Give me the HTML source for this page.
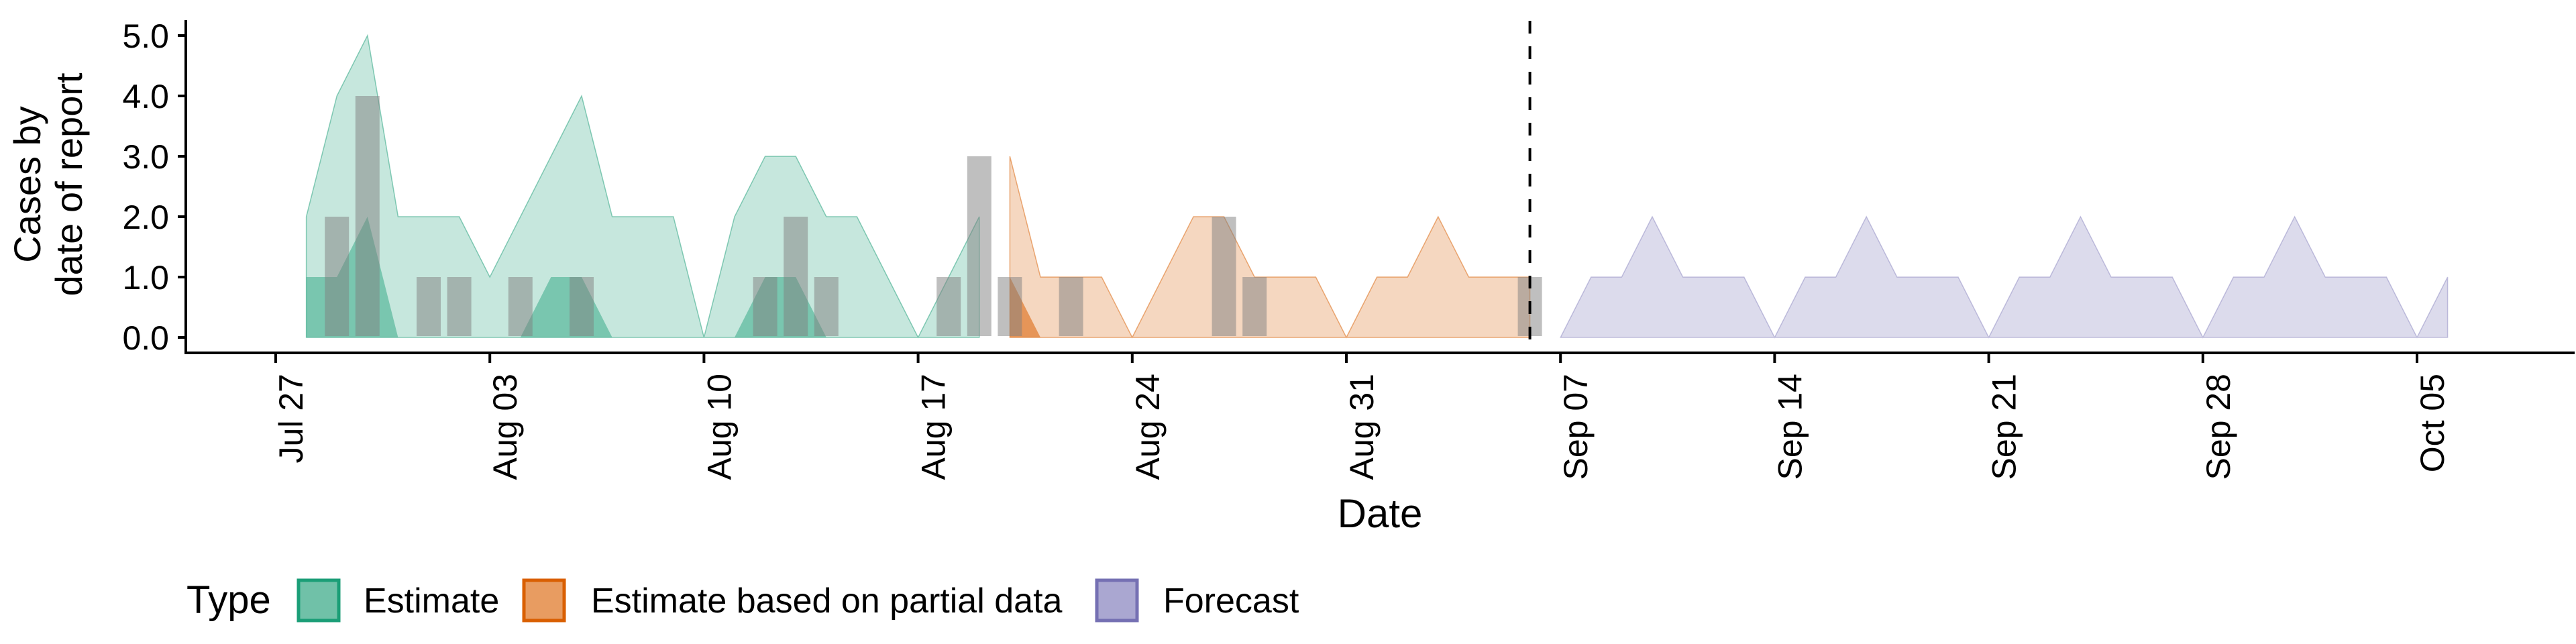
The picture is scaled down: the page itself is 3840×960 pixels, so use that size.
<!DOCTYPE html>
<html><head><meta charset="utf-8"><style>
html,body{margin:0;padding:0;background:#fff;}
svg{display:block;font-family:"Liberation Sans",sans-serif;}
</style></head><body>
<svg id="chart" width="3840" height="960" viewBox="0 0 3840 960" xmlns="http://www.w3.org/2000/svg">
<g id="plot"></g>
<g id="axes"></g>
<text transform="translate(70,275) rotate(-90)" text-anchor="middle" font-size="56"><tspan x="0" dy="-10">Cases by</tspan><tspan x="0" dy="62">date of report</tspan></text>
<text x="2057" y="786" text-anchor="middle" font-size="60">Date</text>
<g>
<text x="278" y="914" font-size="58">Type</text>
<rect x="445" y="865" width="60" height="60" fill="#70c1a8" stroke="#1b9e77" stroke-width="5"/>
<text x="542" y="913" font-size="52">Estimate</text>
<rect x="781" y="865" width="60" height="60" fill="#e89c61" stroke="#d95f02" stroke-width="5"/>
<text x="881" y="913" font-size="52">Estimate based on partial data</text>
<rect x="1635" y="865" width="60" height="60" fill="#aaa7d1" stroke="#7570b3" stroke-width="5"/>
<text x="1734" y="913" font-size="52">Forecast</text>
</g>
</svg>
<script>
// day index 0 = Jul 27
const estDays = [1,2,3,4,5,6,7,8,9,10,11,12,13,14,15,16,17,18,19,20,21,22,23];
const estUpper = [2,4,5,2,2,2,1,2,3,4,2,2,2,0,2,3,3,2,2,1,0,1,2];
const estInner = [1,1,2,0,0,0,0,0,1,1,0,0,0,0,0,1,1,0,0,0,0,0,0];
const partDays = [24,25,26,27,28,29,30,31,32,33,34,35,36,37,38,39,40,41];
const partUpper = [3,1,1,1,0,1,2,2,1,1,1,0,1,1,2,1,1,1];
const partInner = [1,0,0,0,0,0,0,0,0,0,0,0,0,0,0,0,0,0];
const foreDays = [42,43,44,45,46,47,48,49,50,51,52,53,54,55,56,57,58,59,60,61,62,63,64,65,66,67,68,69,70,71];
const foreUpper = [0,1,1,2,1,1,1,0,1,1,2,1,1,1,0,1,1,2,1,1,1,0,1,1,2,1,1,1,0,1];
const barDays = [2,3,5,6,8,10,16,17,18,22,23,24,26,31,32,41];
const barValues = [2,4,1,1,1,1,1,2,1,1,3,1,1,2,1,1];
const yTicks = [0,1,2,3,4,5];
const xTickDays = [0,7,14,21,28,35,42,49,56,63,70];
const xTickLabels = ["Jul 27","Aug 03","Aug 10","Aug 17","Aug 24","Aug 31","Sep 07","Sep 14","Sep 21","Sep 28","Oct 05"];
const forecastStartDay = 41;

const NS="http://www.w3.org/2000/svg";
const X = d => 411 + d*45.6;
const Y = v => 503 - v*90;
const plot=document.getElementById('plot'), axes=document.getElementById('axes');
function mk(tag, attrs, parent){const e=document.createElementNS(NS,tag);for(const k in attrs)e.setAttribute(k,attrs[k]);parent.appendChild(e);return e;}
function ribbon(days, vals, fill, stroke, name){
  let pts=days.map((d,i)=>X(d)+','+Y(vals[i]));
  pts.push(X(days[days.length-1])+','+Y(0));pts.push(X(days[0])+','+Y(0));
  const p=mk('polygon',{points:pts.join(' '),fill:fill,stroke:stroke,'stroke-width':1.5},plot);
  
  
}
ribbon(estDays, estUpper, 'rgba(27,158,119,0.25)', 'rgba(27,158,119,0.5)', 'estimate-outer-band');
ribbon(estDays, estInner, 'rgba(27,158,119,0.45)', 'none', 'estimate-inner-band');
ribbon(partDays, partUpper, 'rgba(217,95,2,0.25)', 'rgba(217,95,2,0.5)', 'partial-outer-band');
ribbon(partDays, partInner, 'rgba(217,95,2,0.55)', 'none', 'partial-inner-band');
ribbon(foreDays, foreUpper, 'rgba(117,112,179,0.25)', 'rgba(117,112,179,0.4)', 'forecast-band');
barDays.forEach((d,i)=>{
  const r=mk('rect',{x:X(d)-18,y:Y(barValues[i]),width:36,height:Y(0)-Y(barValues[i])-2,fill:'rgba(128,128,128,0.5)'},plot);
  
  
});
const dl=mk('line',{x1:X(forecastStartDay),x2:X(forecastStartDay),y1:31,y2:525,stroke:'#000','stroke-width':4,'stroke-dasharray':'19,19'},plot);


const ya=mk('line',{x1:277,x2:277,y1:30,y2:528,stroke:'#000','stroke-width':4},axes);


const xa=mk('line',{x1:275,x2:3838,y1:526,y2:526,stroke:'#000','stroke-width':4},axes);


yTicks.forEach(v=>{
  const t=mk('line',{x1:265,x2:277,y1:Y(v),y2:Y(v),stroke:'#000','stroke-width':4},axes);
  
  
  const l=mk('text',{x:252,y:Y(v)+18,'text-anchor':'end','font-size':50},axes);
  l.textContent=v.toFixed(1);
  
  
});
xTickDays.forEach((d,i)=>{
  const t=mk('line',{x1:X(d),x2:X(d),y1:526,y2:541,stroke:'#000','stroke-width':4},axes);
  
  
  const l=mk('text',{transform:'translate('+(X(d)+40)+',557) rotate(-90)','text-anchor':'end','font-size':50},axes);
  l.textContent=xTickLabels[i];
  
  
});
</script>
</body></html>
